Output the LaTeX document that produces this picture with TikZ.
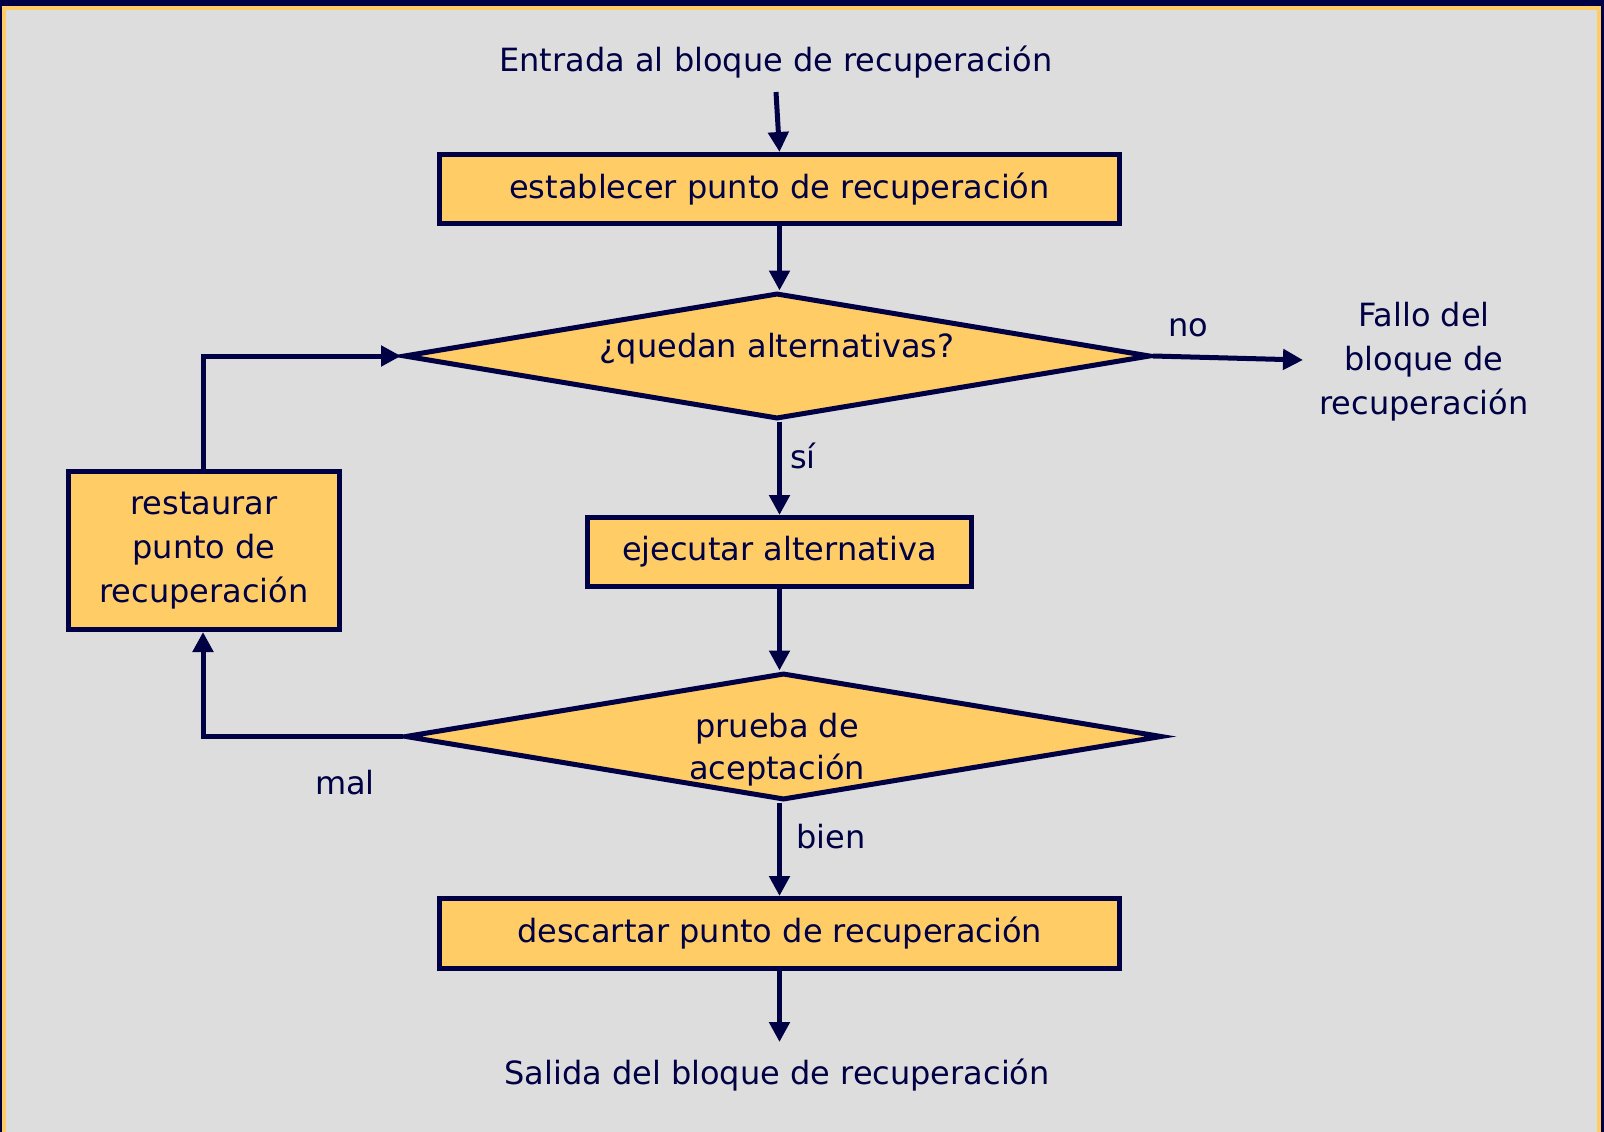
\documentclass[tikz,border=0pt]{standalone}
\usepackage{fontspec}
\setmainfont{DejaVu Sans}
\usetikzlibrary{arrows.meta,shapes.geometric}
\definecolor{navy}{RGB}{0,0,68}
\definecolor{boxfill}{RGB}{255,204,102}
\definecolor{bg}{RGB}{221,221,221}
\begin{document}
\begin{tikzpicture}[x=1pt,y=-1pt,
  every node/.style={font=\fontsize{32}{44}\selectfont, text=navy},
  procbox/.style={draw=navy, fill=boxfill, line width=5pt, inner sep=0pt, anchor=north west},
  decision/.style={draw=navy, fill=boxfill, line width=5pt, shape=diamond, aspect=6, inner sep=0pt},
  txt/.style={align=center, inner sep=0pt},
  conn/.style={draw=navy, line width=5pt, -{Triangle[length=20pt,width=20pt]}}]
\useasboundingbox (0,0) rectangle (1604,1132);
\fill[navy] (0,0) rectangle (1604,1132);
\fill[boxfill] (2,6) rectangle (1601,1140);
\fill[bg] (6,10) rectangle (1597,1140);

% start / end texts
\node[txt] (entry) at (776,62) {Entrada al bloque de recuperación};
\node[txt] (exit) at (777,1075) {Salida del bloque de recuperación};
\coordinate (entryend) at (776,92);
\coordinate (exitend) at (777,1042);

% boxes
\node[procbox, minimum width=680pt, minimum height=69pt] (est) at (437,152) {};
\node[txt] (esttxt) at (est.center) {establecer punto de recuperación};

\node[decision, minimum width=747pt, minimum height=126pt] (q1) at (777,356) {};
\node[txt] (q1txt) at (777,349) {¿quedan alternativas?};

\node[procbox, minimum width=384pt, minimum height=69pt] (ejec) at (585,515) {};
\node[txt] (ejectxt) at (ejec.center) {ejecutar alternativa};

\node[decision, minimum width=757pt, minimum height=127pt] (q2) at (783.5,736.5) {};
\node[txt] (q2txt) at (777,750) {prueba de\\[-2pt]aceptación};

\node[procbox, minimum width=680pt, minimum height=70pt] (desc) at (437,896) {};
\node[txt] (desctxt) at (desc.center) {descartar punto de recuperación};

\node[procbox, minimum width=271pt, minimum height=158pt] (rest) at (66,469) {};
\node[txt] (resttxt) at (rest.center) {restaurar\\punto de\\recuperación};

\node[txt] (fallo) at (1424,362) {Fallo del\\bloque de\\recuperación};
\coordinate (falloend) at (1303,360);

% labels
\node[txt] (no) at (1188,328) {no};
\node[txt] (si) at (803,456) {sí};
\node[txt] (bien) at (831,837) {bien};
\node[txt] (mal) at (345,783) {mal};

% connectors
\draw[conn] (entryend) -- (est.north);
\draw[conn] (est.south) -- (est.south |- q1.north);
\draw[conn] (q1.east) -- (falloend);
\draw[conn] (ejec.north |- q1.south) -- (ejec.north);
\draw[conn] (ejec.south) -- (ejec.south |- q2.north);
\draw[conn] (desc.north |- q2.south) -- (desc.north);
\draw[conn] (desc.south) -- (desc.south |- exitend);
\draw[conn] (q2.west) -| (rest.south -| 203,0);
\draw[conn] (rest.north -| 203,0) |- (q1.west);
\end{tikzpicture}
\end{document}
